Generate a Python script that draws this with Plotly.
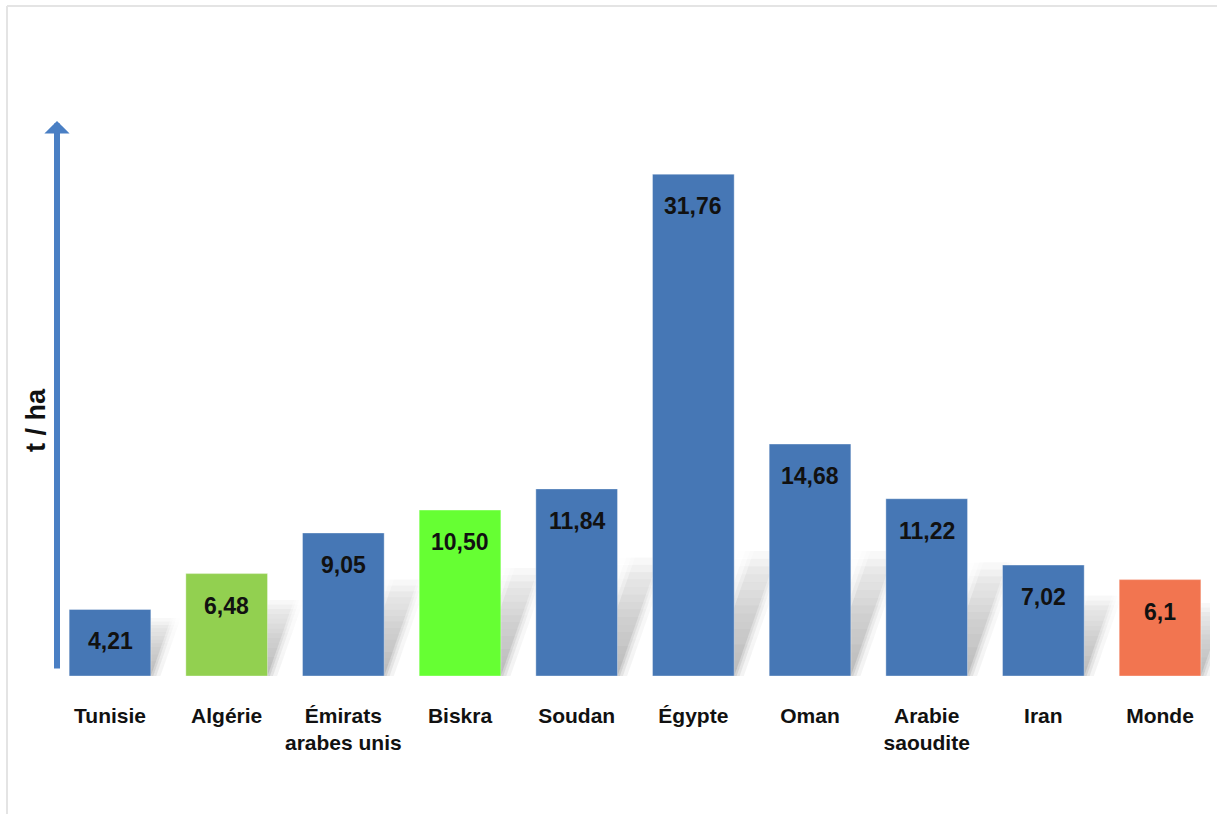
import plotly.graph_objects as go

# Yield by country (t / ha)
countries = ["Tunisie", "Algérie", "Émirats<br>arabes unis", "Biskra", "Soudan",
             "Égypte", "Oman", "Arabie<br>saoudite", "Iran", "Monde"]
yields = [4.21, 6.48, 9.05, 10.50, 11.84, 31.76, 14.68, 11.22, 7.02, 6.1]
decimals = [2, 2, 2, 2, 2, 2, 2, 2, 2, 1]
bar_colors = ["#4677b5", "#92d050", "#4677b5", "#66ff33", "#4677b5",
              "#4677b5", "#4677b5", "#4677b5", "#4677b5", "#f27550"]

labels = [f"{v:.{d}f}".replace(".", ",") for v, d in zip(yields, decimals)]
idx = list(range(len(countries)))

W, H = 1217, 814
ML, MR, MT, MB = 57, 7, 100, 138
plot_w, plot_h = W - ML - MR, H - MT - MB
px_per_cat = 116.67
px_per_unit = 15.8
x_lo = -(110 - ML) / px_per_cat
x_hi = x_lo + plot_w / px_per_cat
y_hi = plot_h / px_per_unit

FONT = "Liberation Sans, Arial, sans-serif"
BAR_W = 0.70


def ux(px):
    return px / px_per_cat


def uy(px):
    return px / px_per_unit


fig = go.Figure()

# soft diagonal shadows cast behind each bar, fading upward
shapes = []
for i, v in zip(idx, yields):
    xr = i + BAR_W / 2
    bar_px = v * px_per_unit
    hs = min(25 + 0.5 * bar_px, 125)
    slope = 0.35
    n = 16
    for blur, base_op in [(16, 0.06), (9, 0.09), (4, 0.11), (0, 0.14)]:
        w = 24 + blur
        for k in range(n):
            y0 = hs * k / n
            y1 = hs * (k + 1) / n
            op = base_op * (1 - (k + 0.5) / n) ** 0.7
            pts = [(-w + slope * y0, y0), (slope * y0 + blur * 0.6, y0),
                   (slope * y1 + blur * 0.6, y1), (-w + slope * y1, y1)]
            path = "M " + " L ".join(f"{xr + ux(a):.4f} {uy(b):.4f}" for a, b in pts) + " Z"
            shapes.append(dict(type="path", xref="x", yref="y", layer="below",
                               line=dict(width=0),
                               fillcolor=f"rgba(60,60,60,{op:.3f})", path=path))

# light page frame
fx = (7 - ML) / plot_w
fy = (plot_h + MT - 6) / plot_h
shapes.append(dict(type="line", xref="paper", yref="paper", x0=fx, x1=fx,
                   y0=-MB / plot_h, y1=fy, line=dict(color="#e4e4e4", width=2)))
shapes.append(dict(type="line", xref="paper", yref="paper", x0=fx,
                   x1=(W - ML) / plot_w, y0=fy, y1=fy,
                   line=dict(color="#e4e4e4", width=2)))

fig.add_trace(go.Bar(
    x=idx, y=yields, width=BAR_W,
    marker=dict(color=bar_colors, line=dict(color="rgba(255,255,255,0.35)", width=1)),
    hoverinfo="skip",
))

annotations = []
for i, v, t in zip(idx, yields, labels):
    annotations.append(dict(
        x=i, y=v, xref="x", yref="y", text=t, showarrow=False,
        yanchor="middle", yshift=-32,
        font=dict(family=FONT, size=23, color="#111111", weight="bold"),
    ))

# vertical axis arrow
annotations.append(dict(
    x=0, y=(plot_h - 121 + MT) / plot_h, xref="paper", yref="paper",
    ax=0, ay=549, axref="pixel", ayref="pixel", text="",
    showarrow=True, arrowhead=1, arrowsize=0.7, arrowwidth=6,
    arrowcolor="#4a7fc4", standoff=0,
))
# axis title
annotations.append(dict(
    x=0, y=(676 - 420) / plot_h, xref="paper", yref="paper",
    xanchor="center", yanchor="middle", xshift=-21,
    text="t / ha", textangle=-90, showarrow=False,
    font=dict(family="Liberation Sans, Arial, sans-serif", size=27,
              color="#111111", weight="bold"),
))

fig.update_layout(
    width=W, height=H,
    margin=dict(l=ML, r=MR, t=MT, b=MB, autoexpand=False),
    paper_bgcolor="white", plot_bgcolor="white",
    showlegend=False,
    shapes=shapes, annotations=annotations,
    xaxis=dict(
        range=[x_lo, x_hi], tickmode="array", tickvals=idx, ticktext=countries,
        showgrid=False, zeroline=False, showline=False, ticks="",
        tickangle=0, automargin=False, ticklabelstandoff=25,
        tickfont=dict(family=FONT, size=21, color="#111111", weight="bold"),
    ),
    yaxis=dict(range=[0, y_hi], showgrid=False, zeroline=False, automargin=False,
               showline=False, showticklabels=False, ticks=""),
)

fig.write_html("out.html")
